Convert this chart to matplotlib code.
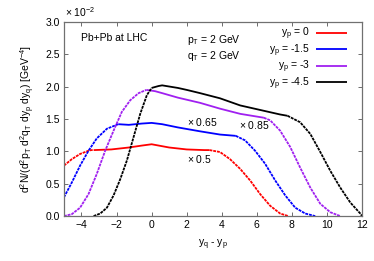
import matplotlib
matplotlib.use('Agg')
import matplotlib.pyplot as plt
import numpy as np

plt.rcParams['font.family'] = ['Liberation Sans', 'DejaVu Sans']
plt.rcParams['mathtext.fontset'] = 'custom'
plt.rcParams['mathtext.rm'] = 'Liberation Sans'
plt.rcParams['mathtext.it'] = 'Liberation Sans'
plt.rcParams['mathtext.default'] = 'regular'

# y_p = 0  (x 0.5)
x_red = [-5.0, -4.55, -4.08, -3.6, -3.45, -3.3, -2.3, -1.3, -0.55, 0.0, 0.6, 1.0, 2.0, 3.0, 3.3,
         3.9, 4.47, 5.05, 5.62, 6.19, 6.76, 7.33, 7.8]
y_red = [0.78, 0.88, 0.96, 1.01, 1.02, 1.02, 1.03, 1.06, 1.09, 1.11, 1.08, 1.06, 1.03, 1.02, 1.02,
         0.99, 0.88, 0.73, 0.55, 0.34, 0.16, 0.04, 0.0]
red_solid = (-3.3, 3.3)

# y_p = -1.5  (x 0.65)
x_blue = [-5.0, -4.55, -4.08, -3.6, -3.13, -2.55, -1.9, -1.3, -0.55, 0.0, 0.6, 1.5, 2.76, 3.9, 4.8,
          5.33, 5.9, 6.47, 7.05, 7.62, 8.19, 8.76, 9.33]
y_blue = [0.29, 0.52, 0.78, 1.01, 1.20, 1.35, 1.42, 1.41, 1.43, 1.44, 1.42, 1.37, 1.31, 1.26, 1.24,
          1.17, 1.01, 0.81, 0.55, 0.32, 0.13, 0.04, 0.0]
blue_solid = (-1.9, 4.8)

# y_p = -3  (x 0.85)
x_purple = [-5.0, -4.55, -4.08, -3.6, -3.13, -2.65, -2.17, -1.7, -1.22, -0.74, -0.3, 0.2, 0.6, 1.5,
            2.76, 3.9, 5.05, 6.4, 6.76, 7.33, 7.9, 8.47, 9.05, 9.62, 10.19, 10.76]
y_purple = [0.0, 0.03, 0.13, 0.34, 0.65, 1.01, 1.32, 1.61, 1.79, 1.90, 1.95, 1.93, 1.90, 1.83,
            1.75, 1.66, 1.58, 1.52, 1.48, 1.32, 1.07, 0.75, 0.44, 0.19, 0.06, 0.0]
purple_solid = (-0.3, 6.4)

# y_p = -4.5
x_black = [-3.31, -2.93, -2.55, -2.17, -1.79, -1.41, -1.03, -0.65, -0.27, 0.0, 0.4, 0.6, 1.5, 2.0,
           2.76, 3.9, 5.05, 6.19, 7.33, 7.75, 8.47, 9.05, 9.62, 10.19, 10.76, 11.33, 11.9, 12.0]
y_black = [0.0, 0.04, 0.13, 0.32, 0.57, 0.86, 1.22, 1.58, 1.87, 1.98, 2.01, 2.02, 1.98, 1.95,
           1.90, 1.82, 1.71, 1.64, 1.57, 1.55, 1.45, 1.27, 0.99, 0.70, 0.44, 0.21, 0.04, 0.0]
black_solid = (0.0, 7.75)

curves = [
    (x_red, y_red, red_solid, '#ff0000', r'y$_p$ = 0'),
    (x_blue, y_blue, blue_solid, '#0000ff', r'y$_p$ = -1.5'),
    (x_purple, y_purple, purple_solid, '#a020f0', r'y$_p$ = -3'),
    (x_black, y_black, black_solid, '#000000', r'y$_p$ = -4.5'),
]

fig = plt.figure(figsize=(3.74, 2.61), dpi=100)
ax = fig.add_axes([0.171, 0.172, 0.797, 0.744])

for xs, ys, (lo, hi), col, lab in curves:
    xs = np.array(xs)
    ys = np.array(ys)
    left = xs <= lo
    mid = (xs >= lo) & (xs <= hi)
    right = xs >= hi
    ax.plot(xs[mid], ys[mid], color=col, lw=1.3, label=lab, solid_capstyle='butt')
    ax.plot(xs[right], ys[right], color=col, lw=1.3, linestyle=(0, (1.6, 0.5)))
    if left.sum() > 1:
        ax.plot(xs[left], ys[left], color=col, lw=1.3, linestyle=(0, (1.6, 0.5)))

ax.set_xlim(-5, 12)
ax.set_ylim(0, 3.0)
ax.set_xticks(np.arange(-4, 13, 2))
ax.set_yticks(np.arange(0, 3.01, 0.5))
ax.set_yticklabels(['%.1f' % v for v in np.arange(0, 3.01, 0.5)])
ax.tick_params(direction='in', length=3, width=0.6, top=True, right=True,
               labelsize=7.5, pad=3, color='#555555')
for sp in ax.spines.values():
    sp.set_color('#707070')
    sp.set_linewidth(0.9)

ax.set_xlabel(r'y$_q$ - y$_p$', fontsize=7.5, labelpad=5)
ax.set_ylabel(r'd$^2$N/(d$^2$p$_T$ d$^2$q$_T$ dy$_p$ dy$_q$) [GeV$^{-4}$]', fontsize=7.5, labelpad=6)

fig.text(0.174, 0.955, r'$\times$ 10$^{-2}$', fontsize=7.5, va='center', ha='left')

ax.text(-4.0, 2.75, 'Pb+Pb at LHC', fontsize=7.5, va='center')
ax.text(2.0, 2.72, r'p$_T$ = 2 GeV', fontsize=7.5, va='center')
ax.text(2.0, 2.48, r'q$_T$ = 2 GeV', fontsize=7.5, va='center')
ax.text(2.0, 1.45, r'$\times$ 0.65', fontsize=7.5, va='center')
ax.text(2.0, 0.89, r'$\times$ 0.5', fontsize=7.5, va='center')
ax.text(5.0, 1.40, r'$\times$ 0.85', fontsize=7.5, va='center')

ax.legend(loc='upper right', bbox_to_anchor=(0.965, 1.0), frameon=False, markerfirst=False,
          fontsize=7.5, handlelength=3.0, handletextpad=0.6, labelspacing=0.0,
          borderaxespad=0.0)

fig.savefig('out.png', dpi=100)
